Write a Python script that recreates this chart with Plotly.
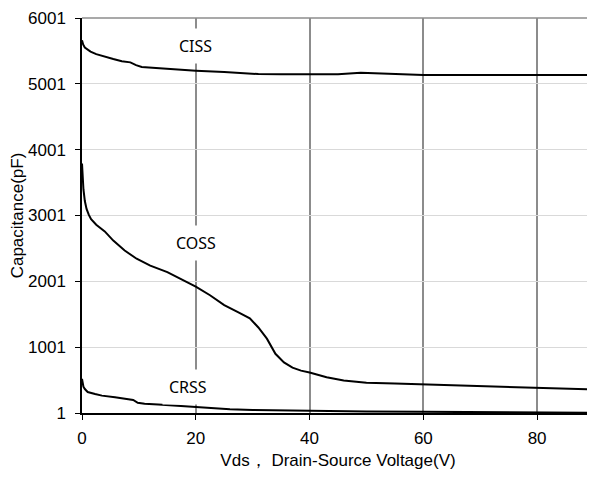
import plotly.graph_objects as go

# ---- data ----
vds_ciss = [0, 0.2, 0.5, 1.5, 2.5, 4, 5.5, 7, 8.5, 9.5, 10.5, 13, 16, 20, 25, 31, 35, 40, 45, 49, 53, 57, 60, 70, 80, 90]
ciss = [5663, 5600, 5553, 5490, 5452, 5410, 5377, 5345, 5327, 5285, 5258, 5240, 5220, 5200, 5180, 5150, 5145, 5142, 5145, 5170, 5160, 5140, 5136, 5136, 5136, 5136]

vds_coss = [0, 0.1, 0.25, 0.5, 0.8, 1.2, 1.6, 2.5, 4, 5.5, 7.5, 9.6, 12, 15, 17.5, 20, 22.5, 25, 27.5, 29.5, 31, 32.5, 34, 35.5, 37, 38.5, 40, 43, 46, 50, 55, 60, 65, 70, 75, 80, 85, 90]
coss = [3790, 3600, 3400, 3220, 3100, 3010, 2945, 2860, 2760, 2620, 2470, 2344, 2240, 2140, 2035, 1920, 1790, 1640, 1530, 1440, 1300, 1130, 900, 770, 690, 645, 615, 545, 495, 462, 448, 435, 420, 405, 392, 382, 370, 359]

vds_crss = [0, 0.1, 0.25, 0.5, 1, 2.3, 3.5, 5.8, 7.5, 9, 9.8, 11, 13.4, 17, 20, 23, 26, 30, 35, 40, 50, 60, 70, 80, 90]
crss = [520, 460, 400, 365, 320, 290, 265, 239, 215, 200, 155, 140, 129, 108, 88, 70, 57, 48, 40, 30, 24, 19, 14, 9, 5]

curve_names = ["CISS", "COSS", "CRSS"]
label_x = [20, 20, 18.6]
label_y = [5570, 2580, 400]

x_ticks = [0, 20, 40, 60, 80]
y_ticks = [1, 1001, 2001, 3001, 4001, 5001, 6001]

# ---- figure ----
fig = go.Figure()
for xs, ys, nm in [(vds_ciss, ciss, "CISS"), (vds_coss, coss, "COSS"), (vds_crss, crss, "CRSS")]:
    fig.add_trace(go.Scatter(x=xs, y=ys, mode="lines", name=nm,
                             line=dict(color="black", width=2)))

for nm, lx, ly in zip(curve_names, label_x, label_y):
    fig.add_annotation(x=lx, y=ly, text=nm, showarrow=False, bgcolor="white",
                       borderpad=6, font=dict(family="Noto Sans", size=16, color="black"))

# top and right frame
fig.add_shape(type="line", xref="paper", yref="paper", x0=0, x1=1, y0=1, y1=1,
              line=dict(color="#8c8c8c", width=1.5), layer="below")
fig.add_shape(type="line", xref="paper", yref="paper", x0=1, x1=1, y0=0, y1=1,
              line=dict(color="#8c8c8c", width=1.5), layer="below")

fig.update_layout(
    width=587, height=462,
    margin=dict(l=74, r=1, t=6, b=57),
    paper_bgcolor="white", plot_bgcolor="white",
    showlegend=False,
    font=dict(family="Liberation Sans, Arial", size=17, color="black"),
    xaxis=dict(range=[0, 90], tickvals=x_ticks, ticks="outside", ticklen=5,
               tickcolor="black", showline=True, linecolor="black", linewidth=1.5,
               showgrid=True, gridcolor="#8c8c8c", gridwidth=1.5, zeroline=False,
               ticklabelstandoff=4,
               title=dict(text="Vds， Drain-Source Voltage(V)", standoff=9,
                          font=dict(size=17)),
               tickfont=dict(size=17)),
    yaxis=dict(range=[1, 6001], tickvals=y_ticks, ticks="outside", ticklen=5,
               tickcolor="black", showline=True, linecolor="black", linewidth=1.5,
               showgrid=True, gridcolor="#d9d9d9", gridwidth=1, zeroline=False,
               ticklabelstandoff=6, ticklabeloverflow="allow",
               title=dict(text="Capacitance(pF)", standoff=7, font=dict(size=17)),
               tickfont=dict(size=17)),
)

fig.write_html("out.html")
